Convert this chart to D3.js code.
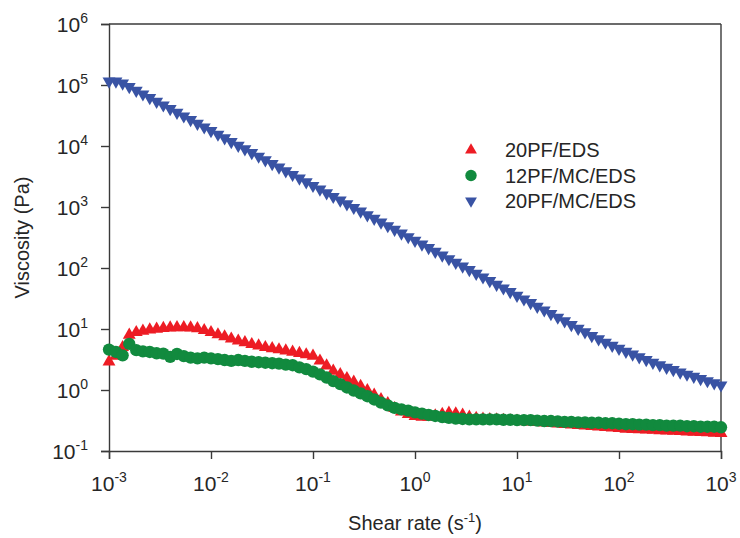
<!DOCTYPE html>
<html>
<head>
<meta charset="utf-8">
<script src="https://cdn.jsdelivr.net/npm/d3@7"></script>
<style>
  body { margin: 0; background: #fff; }
  text { font-family: "Liberation Sans", Arial, sans-serif; fill: #262626; }
</style>
</head>
<body>
<div id="chart"></div>
<script>
// shear rate (1/s), 15 points per decade
let shearRate = [
  0.001, 0.00117, 0.00136, 0.00158, 0.00185, 0.00215, 0.00251, 0.00293, 0.00341, 0.00398, 0.00464, 0.00541, 0.00631, 0.00736, 0.00858,
  0.01, 0.0117, 0.0136, 0.0158, 0.0185, 0.0215, 0.0251, 0.0293, 0.0341, 0.0398, 0.0464, 0.0541, 0.0631, 0.0736, 0.0858,
  0.1, 0.117, 0.136, 0.158, 0.185, 0.215, 0.251, 0.293, 0.341, 0.398, 0.464, 0.541, 0.631, 0.736, 0.858,
  1, 1.17, 1.36, 1.58, 1.85, 2.15, 2.51, 2.93, 3.41, 3.98, 4.64, 5.41, 6.31, 7.36, 8.58,
  10, 11.7, 13.6, 15.8, 18.5, 21.5, 25.1, 29.3, 34.1, 39.8, 46.4, 54.1, 63.1, 73.6, 85.8,
  100, 117, 136, 158, 185, 215, 251, 293, 341, 398, 464, 541, 631, 736, 858,
  1000
];

// viscosity (Pa) of 20PF/EDS
let visc20PF = [
  2.9, 3.6, 5.0, 8.0, 8.8, 9.3, 9.7, 10.0, 10.3, 10.5, 10.6, 10.6, 10.5, 10.2, 9.5,
  8.8, 8.1, 7.5, 6.9, 6.4, 6.0, 5.6, 5.3, 5.0, 4.8, 4.6, 4.4, 4.2, 4.0, 3.8,
  3.6, 3.0, 2.5, 2.05, 1.8, 1.55, 1.35, 1.15, 0.98, 0.83, 0.7, 0.6, 0.5, 0.44, 0.4,
  0.37, 0.36, 0.36, 0.38, 0.40, 0.42, 0.41, 0.39, 0.36, 0.345, 0.335, 0.33, 0.325, 0.32, 0.315,
  0.31, 0.305, 0.30, 0.295, 0.29, 0.285, 0.28, 0.275, 0.27, 0.265, 0.26, 0.255, 0.25, 0.245, 0.24,
  0.235, 0.23, 0.228, 0.225, 0.222, 0.22, 0.217, 0.215, 0.212, 0.21, 0.207, 0.205, 0.202, 0.2, 0.197,
  0.195
];

// viscosity (Pa) of 12PF/MC/EDS
let visc12PFMC = [
  4.6, 4.2, 3.7, 5.7, 4.5, 4.3, 4.2, 4.0, 3.95, 3.5, 3.9, 3.6, 3.4, 3.3, 3.4,
  3.3, 3.2, 3.1, 3.0, 3.1, 3.0, 2.9, 2.85, 2.8, 2.75, 2.7, 2.6, 2.55, 2.35, 2.2,
  2.0, 1.8, 1.6, 1.4, 1.25, 1.1, 0.98, 0.88, 0.79, 0.7, 0.62, 0.56, 0.51, 0.48, 0.46,
  0.43, 0.41, 0.39, 0.375, 0.36, 0.35, 0.34, 0.335, 0.33, 0.33, 0.33, 0.33, 0.33, 0.325, 0.325,
  0.32, 0.32, 0.32, 0.315, 0.31, 0.31, 0.305, 0.30, 0.30, 0.295, 0.295, 0.29, 0.29, 0.285, 0.285,
  0.28, 0.275, 0.275, 0.27, 0.27, 0.265, 0.265, 0.26, 0.26, 0.26, 0.255, 0.255, 0.25, 0.25, 0.25,
  0.245
];

// viscosity (Pa) of 20PF/MC/EDS
let visc20PFMC = [
  115000, 115000, 107000, 93300, 81300, 70800, 61700, 53700, 46800, 40700, 35500, 30900, 26900, 23400, 20400,
  17800, 15500, 13500, 11700, 10200, 8910, 7760, 6760, 5890, 5130, 4470, 3890, 3390, 2950, 2570,
  2240, 1950, 1700, 1480, 1290, 1120, 977, 851, 741, 646, 562, 490, 427, 372, 324,
  282, 245, 214, 186, 162, 141, 123, 107, 93.3, 81.3, 70.8, 61.7, 53.7, 46.8, 40.7,
  35.5, 30.9, 26.9, 23.4, 20.4, 17.8, 15.5, 13.5, 11.7, 10.2, 8.91, 7.76, 6.84, 6.03, 5.37,
  4.79, 4.27, 3.85, 3.47, 3.13, 2.82, 2.57, 2.34, 2.14, 1.95, 1.80, 1.66, 1.53, 1.41, 1.30,
  1.20
];

let seriesNames = ["20PF/EDS", "12PF/MC/EDS", "20PF/MC/EDS"];
let xTickExp = [-3, -2, -1, 0, 1, 2, 3];
let yTickExp = [-1, 0, 1, 2, 3, 4, 5, 6];

//set canvas and margins
let svgWidth = 740;
let svgHeight = 538;
let margin = { top: 24, right: 19, bottom: 87, left: 109 };
let width = svgWidth - margin.left - margin.right;
let height = svgHeight - margin.top - margin.bottom;

let svg = d3.select("#chart")
  .append("svg")
  .attr("width", svgWidth)
  .attr("height", svgHeight);

let chartGroup = svg.append("g")
  .attr("transform", `translate(${margin.left}, ${margin.top})`);

//scales
let xScale = d3.scaleLog().domain([1e-3, 1e3]).range([0, width]);
let yScale = d3.scaleLog().domain([1e-1, 1e6]).range([height, 0]);

let axisColor = "#3a3a3a";

//axes (labels drawn separately for superscripts)
let bottomAxis = d3.axisBottom(xScale)
  .tickValues(xTickExp.map(e => Math.pow(10, e)))
  .tickSize(8)
  .tickFormat("");
let leftAxis = d3.axisLeft(yScale)
  .tickValues(yTickExp.map(e => Math.pow(10, e)))
  .tickSize(8)
  .tickFormat("");

let xAxisG = chartGroup.append("g")
  .attr("transform", `translate(0, ${height})`)
  .call(bottomAxis);
let yAxisG = chartGroup.append("g")
  .call(leftAxis);

[xAxisG, yAxisG].forEach(g => {
  g.select(".domain").attr("stroke", axisColor).attr("stroke-width", 1.4);
  g.selectAll(".tick line").attr("stroke", axisColor).attr("stroke-width", 1.4);
});

//frame top and right
chartGroup.append("line")
  .attr("x1", 0).attr("x2", width).attr("y1", 0).attr("y2", 0)
  .attr("stroke", axisColor).attr("stroke-width", 1.4);
chartGroup.append("line")
  .attr("x1", width).attr("x2", width).attr("y1", 0).attr("y2", height)
  .attr("stroke", axisColor).attr("stroke-width", 1.4);

//tick labels with superscripts
function powerLabel(sel, exp) {
  sel.append("tspan").text("10");
  sel.append("tspan")
    .attr("dy", -9)
    .attr("font-size", 14)
    .text(exp < 0 ? "-" + Math.abs(exp) : exp);
}

xTickExp.forEach(e => {
  let t = chartGroup.append("text")
    .attr("x", xScale(Math.pow(10, e)))
    .attr("y", height + 40)
    .attr("text-anchor", "middle")
    .attr("font-size", 21);
  powerLabel(t, e);
});

yTickExp.forEach(e => {
  let t = chartGroup.append("text")
    .attr("x", -21)
    .attr("y", yScale(Math.pow(10, e)) + 7.5)
    .attr("text-anchor", "end")
    .attr("font-size", 21);
  powerLabel(t, e);
});

//data series
let series = [
  { name: seriesNames[0], values: visc20PF, color: "#ed1c24", symbol: d3.symbolTriangle, size: 72, rotate: 0 },
  { name: seriesNames[1], values: visc12PFMC, color: "#118a3e", symbol: d3.symbolCircle, size: 120, rotate: 0 },
  { name: seriesNames[2], values: visc20PFMC, color: "#3953a4", symbol: d3.symbolTriangle, size: 72, rotate: 180 }
];

series.forEach(s => {
  let path = d3.symbol().type(s.symbol).size(s.size)();
  chartGroup.append("g")
    .selectAll("path")
    .data(shearRate.map((x, i) => ({ x: x, y: s.values[i] })))
    .join("path")
    .attr("d", path)
    .attr("fill", s.color)
    .attr("transform", d => `translate(${xScale(d.x)}, ${yScale(d.y)}) rotate(${s.rotate})`);
});

//legend
let legend = svg.append("g").attr("transform", "translate(471, 150)");
series.forEach((s, i) => {
  let row = legend.append("g").attr("transform", `translate(0, ${i * 25.5})`);
  row.append("path")
    .attr("d", d3.symbol().type(s.symbol).size(s.size * 0.85)())
    .attr("fill", s.color)
    .attr("transform", `rotate(${s.rotate})`);
  row.append("text")
    .attr("x", 34)
    .attr("y", 7)
    .attr("font-size", 20)
    .text(s.name);
});

//label y axis
chartGroup.append("text")
  .attr("transform", "rotate(-90)")
  .attr("x", -(yScale(1e3) + yScale(1e2)) / 2)
  .attr("y", -margin.left + 29)
  .attr("text-anchor", "middle")
  .attr("font-size", 20)
  .text("Viscosity (Pa)");

//label x axis
let xTitle = chartGroup.append("text")
  .attr("x", xScale(1))
  .attr("y", height + 79)
  .attr("text-anchor", "middle")
  .attr("font-size", 20);
xTitle.append("tspan").text("Shear rate (s");
xTitle.append("tspan").attr("dy", -8).attr("font-size", 13).text("-1");
xTitle.append("tspan").attr("dy", 8).text(")");
</script>
</body>
</html>
